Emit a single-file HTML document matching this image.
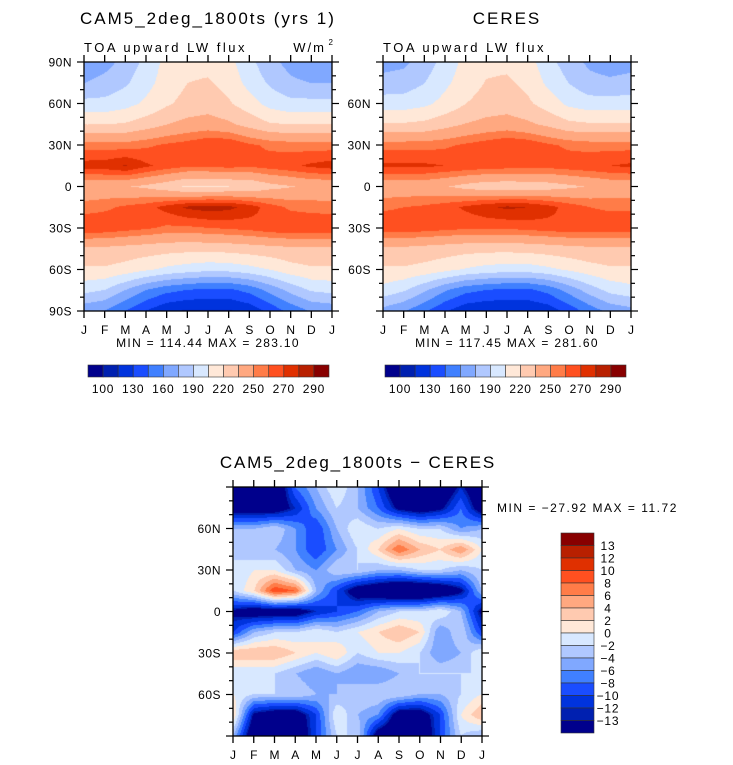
<!DOCTYPE html>
<html><head><meta charset="utf-8">
<style>
html,body{margin:0;padding:0;background:#fff;}
#wrap{position:relative;width:733px;height:765px;overflow:hidden;font-family:"Liberation Sans",sans-serif;}
canvas{position:absolute;}
svg{position:absolute;left:0;top:0;}
</style></head><body>
<div id="wrap">
<canvas id="c1" width="248" height="249" style="left:84px;top:62px"></canvas>
<canvas id="c2" width="248" height="249" style="left:383px;top:62px"></canvas>
<canvas id="c3" width="249" height="249" style="left:233px;top:487px"></canvas>
<svg id="s" width="733" height="765"></svg>
</div>
<script>
const months=["J","F","M","A","M","J","J","A","S","O","N","D","J"];
const lats=[90,75,60,45,30,15,0,-15,-30,-45,-60,-75,-90];
const modelVals=[
[165,170,180,195,210,215,215,210,195,180,170,165,165],
[175,180,188,200,212,220,222,215,200,188,178,175,175],
[195,195,200,208,218,225,228,222,212,200,195,195,195],
[220,220,222,228,235,240,242,238,230,222,220,220,220],
[255,255,255,258,262,265,270,270,262,258,256,255,255],
[275,276,281,272,266,262,262,264,262,265,268,272,275],
[238,238,236,232,226,218,218,220,222,230,234,238,238],
[255,258,262,266,274,282,285,283,276,265,258,256,255],
[270,268,265,262,258,258,260,262,264,268,270,270,270],
[232,232,230,228,226,225,225,226,228,230,232,232,232],
[218,218,214,208,202,198,195,196,200,206,214,218,218],
[195,190,175,160,150,145,142,142,150,165,180,192,195],
[165,160,145,130,118,114,114,114,120,135,150,162,165]];
const ceresVals=[
[170,172,182,196,210,216,216,211,196,182,172,168,170],
[180,182,190,202,213,221,223,216,202,190,180,178,180],
[198,198,202,210,220,226,228,223,213,202,197,197,198],
[222,222,224,230,236,240,242,238,232,224,222,222,222],
[256,256,256,258,262,266,270,268,262,258,256,256,256],
[272,272,272,270,268,266,265,265,264,266,268,270,272],
[240,240,240,236,230,226,225,226,228,232,236,240,240],
[258,260,262,266,272,278,282,280,274,266,260,258,258],
[268,268,266,264,262,262,262,264,266,268,268,268,268],
[232,232,230,228,226,225,225,226,228,230,232,232,232],
[218,218,215,210,204,200,198,198,202,208,214,218,218],
[200,192,178,162,150,145,142,142,150,166,182,195,200],
[170,162,148,132,120,117,117,117,122,136,152,165,170]];
const diffVals=[
[-18,-18,-18,-8,-4,0,-4,-10,-18,-18,-18,-12,-18],
[-16,-16,-16,-12,-6,-2,-4,-8,-14,-16,-14,-8,-16],
[-4,-4,-2,-6,-10,-4,0,-2,0,-2,-2,-6,-4],
[-2,-4,-4,-6,-10,-6,-2,2,8,4,2,6,0],
[-2,0,0,-4,-6,-2,-2,-4,-4,-2,-2,-4,-2],
[-2,2,10,8,-4,-10,-16,-18,-20,-20,-18,-14,-4],
[-14,-16,-16,-16,-12,-10,-8,-4,-2,-2,0,-4,-14],
[-10,-4,-2,-2,0,-2,0,2,4,2,-6,-2,-10],
[4,4,4,2,0,2,-2,0,0,-2,-6,-4,0],
[-2,-2,-2,-4,-6,-4,-6,-6,-4,-2,-2,-2,-2],
[0,-2,-2,-2,-4,-4,-2,-2,-2,-4,-4,-2,0],
[2,-14,-16,-16,-10,0,-4,-6,-16,-16,-10,0,4],
[-4,-18,-18,-18,-10,-2,-2,-16,-18,-18,-10,-2,-4]];
const fluxLevels=[100,115,130,145,160,175,190,205,220,235,250,260,270,280,290];
const fluxLabels=["100","130","160","190","220","250","270","290"];
const diffLevels=[-13,-12,-10,-8,-6,-4,-2,0,2,4,6,8,10,12,13];
const diffLabels=["13","12","10","8","6","4","2","0","\u22122","\u22124","\u22126","\u22128","\u221210","\u221212","\u221213"];
const colors=["#00008c","#0020b0","#0033dd","#1a4dff","#4080ff","#80a8ff","#b0c8ff","#d8e8ff","#ffe8d8","#ffcab0","#ffa880","#ff7c48","#ff5020","#e03000","#b82000","#880000"];
function rgb(h){return [parseInt(h.substr(1,2),16),parseInt(h.substr(3,2),16),parseInt(h.substr(5,2),16)];}
const crgb=colors.map(rgb);
function levelIndex(v,lv){let i=0;while(i<lv.length&&v>=lv[i])i++;return i;}
function draw(id,vals,lv){
  const c=document.getElementById(id),ctx=c.getContext('2d'),W=c.width,H=c.height;
  const img=ctx.createImageData(W,H);
  const nr=vals.length-1,nc=vals[0].length-1;
  for(let y=0;y<H;y++){const fy=y/(H-1)*nr,r=Math.min(Math.floor(fy),nr-1),ty=fy-r;
    for(let x=0;x<W;x++){const fx=x/(W-1)*nc,k=Math.min(Math.floor(fx),nc-1),tx=fx-k;
      const v=(vals[r][k]*(1-tx)+vals[r][k+1]*tx)*(1-ty)+(vals[r+1][k]*(1-tx)+vals[r+1][k+1]*tx)*ty;
      const col=crgb[levelIndex(v,lv)],p=(y*W+x)*4;
      img.data[p]=col[0];img.data[p+1]=col[1];img.data[p+2]=col[2];img.data[p+3]=255;}}
  ctx.putImageData(img,0,0);
}
draw('c1',modelVals,fluxLevels);
draw('c2',ceresVals,fluxLevels);
draw('c3',diffVals,diffLevels);

const svg=document.getElementById('s'),NS="http://www.w3.org/2000/svg";
function el(t,a,txt){const e=document.createElementNS(NS,t);for(const k in a)e.setAttribute(k,a[k]);if(txt!==undefined)e.textContent=txt;svg.appendChild(e);return e;}
function axes(x0,y0,w,h,leftLabels,pfx){
  const fr=el('rect',{x:x0,y:y0,width:w,height:h,fill:'none',stroke:'#000','stroke-width':1.3});
  
  
  const xs=v=>x0+v/12*w, ys=l=>y0+(90-l)/180*h;
  months.forEach((m,i)=>{const x=xs(i);
    el('line',{x1:x,y1:y0,x2:x,y2:y0-7,stroke:'#000','stroke-width':1.3});
    el('line',{x1:x,y1:y0+h,x2:x,y2:y0+h+7,stroke:'#000','stroke-width':1.3});
    const t=el('text',{x:x,y:y0+h+23,'font-size':12,'text-anchor':'middle',fill:'#000'},m);
    
    
  });
  for(let l=-90;l<=90;l+=10){const y=ys(l),maj=l%30===0,len=maj?7:4;
    el('line',{x1:x0,y1:y,x2:x0-len,y2:y,stroke:'#000','stroke-width':1.2});
    el('line',{x1:x0+w,y1:y,x2:x0+w+len,y2:y,stroke:'#000','stroke-width':1.2});
    if(maj){const lab=l===0?"0":Math.abs(l)+(l>0?"N":"S");
      if(leftLabels||(Math.abs(l)<90)){
        const t=el('text',{x:x0-12,y:y+4.5,'font-size':12,'text-anchor':'end',fill:'#000','letter-spacing':0.5},lab);
        
        }
    }}
}
axes(84,62,248,249,true,'model');
axes(383,62,248,249,false,'ceres');
axes(233,487,249,249,false,'diff');
function txt(x,y,s,size,anchor,name,ls){const t=el('text',{x:x,y:y,'font-size':size,'text-anchor':anchor||'start',fill:'#000','letter-spacing':ls||0},s);
  
  return t;}
txt(80,24,"CAM5_2deg_1800ts (yrs 1)",17,'start','model-title',2);
txt(84,52,"TOA upward LW flux",13,'start','model-subtitle',2.5);
txt(326,52,"W/m",13,'end','units-label',2);
txt(333,45,"2",8,'end','units-exponent');
txt(507,24,"CERES",17,'middle','ceres-title',2);
txt(383,52,"TOA upward LW flux",13,'start','ceres-subtitle',2.5);
txt(208,347,"MIN = 114.44 MAX = 283.10",12,'middle','model-minmax',1.3);
txt(507,347,"MIN = 117.45 MAX = 281.60",12,'middle','ceres-minmax',1.3);
txt(358,468,"CAM5_2deg_1800ts \u2212 CERES",17,'middle','diff-title',1.8);
txt(497,512,"MIN = \u221227.92 MAX =  11.72",12,'start','diff-minmax',1.5);
function hbar(x0,pfx){const bw=241/16;
  colors.forEach((c,i)=>{const r=el('rect',{x:x0+i*bw,y:365,width:bw,height:12,fill:c,stroke:'#333','stroke-width':0.6});
    
    });
  fluxLabels.forEach((s,j)=>{txt(x0+(2*j+1)*bw,393,s,12,'middle',pfx+'-colorbar-label',0.8);});
}
hbar(88,'model');hbar(385,'ceres');
const bh=200/16;
colors.slice().reverse().forEach((c,i)=>{const r=el('rect',{x:561,y:533+i*bh,width:33,height:bh,fill:c,stroke:'#333','stroke-width':0.6});
  
  });
diffLabels.forEach((s,j)=>{txt(608,533+(j+1)*bh+4.5,s,12,'middle','diff-colorbar-label',0.8);});
</script>
</body></html>
